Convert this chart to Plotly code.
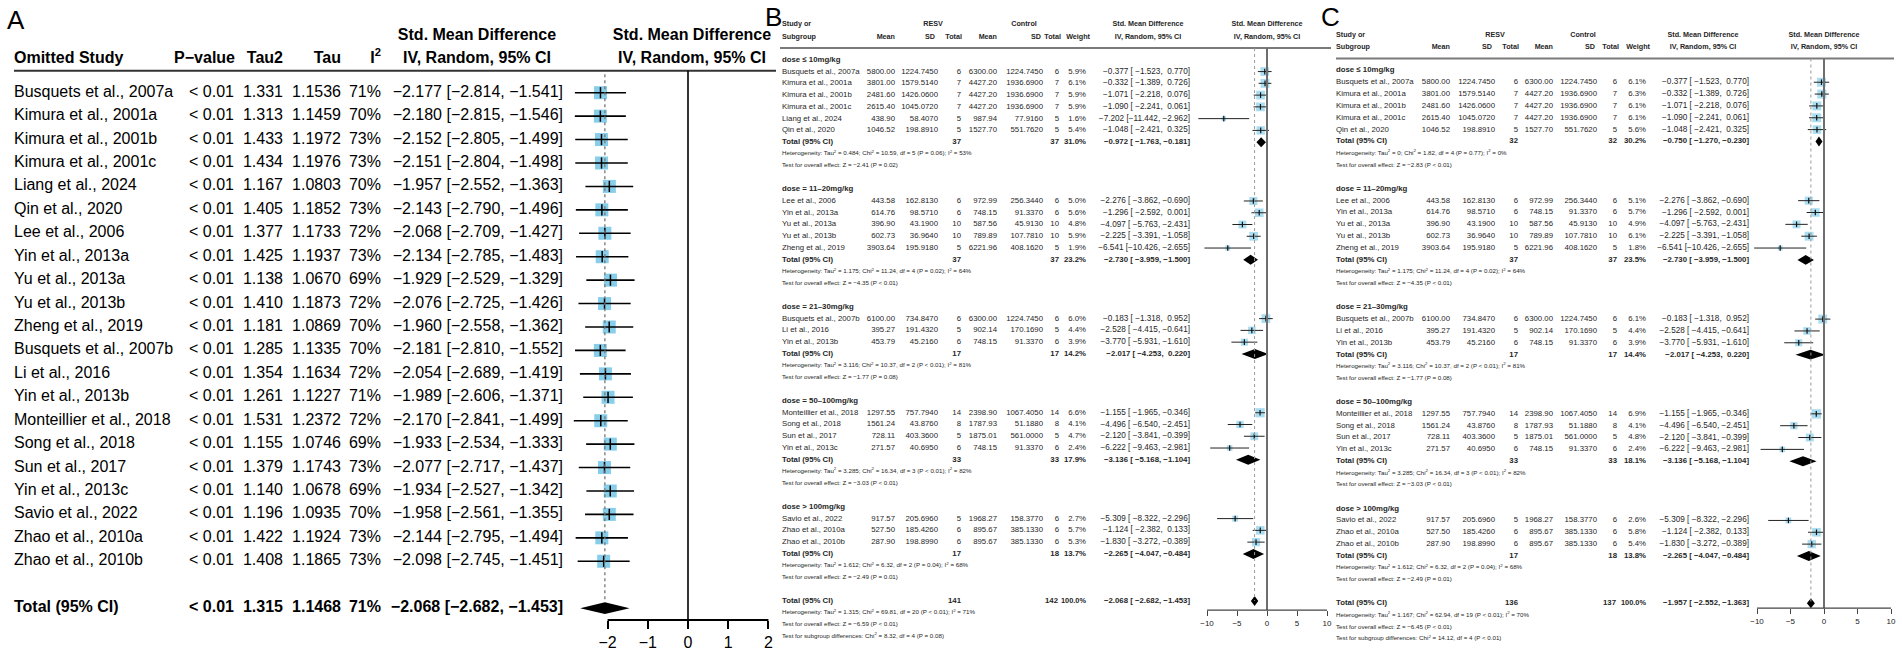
import plotly.graph_objects as go

W, H = 1902, 651
FONT = "Liberation Sans, Arial, sans-serif"
MINUS = "\u2212"

# ---------------- Panel A : leave-one-out ----------------
a_study = ["Busquets et al., 2007a", "Kimura et al., 2001a", "Kimura et al., 2001b", "Kimura et al., 2001c",
           "Liang et al., 2024", "Qin et al., 2020", "Lee et al., 2006", "Yin et al., 2013a", "Yu et al., 2013a",
           "Yu et al., 2013b", "Zheng et al., 2019", "Busquets et al., 2007b", "Li et al., 2016", "Yin et al., 2013b",
           "Monteillier et al., 2018", "Song et al., 2018", "Sun et al., 2017", "Yin et al., 2013c",
           "Savio et al., 2022", "Zhao et al., 2010a", "Zhao et al., 2010b"]
a_pvalue = ["< 0.01"] * 21
a_tau2 = [1.331, 1.313, 1.433, 1.434, 1.167, 1.405, 1.377, 1.425, 1.138, 1.410, 1.181, 1.285, 1.354, 1.261,
          1.531, 1.155, 1.379, 1.140, 1.196, 1.422, 1.408]
a_tau = [1.1536, 1.1459, 1.1972, 1.1976, 1.0803, 1.1852, 1.1733, 1.1937, 1.0670, 1.1873, 1.0869, 1.1335,
         1.1634, 1.1227, 1.2372, 1.0746, 1.1743, 1.0678, 1.0935, 1.1924, 1.1865]
a_i2 = [71, 70, 73, 73, 70, 73, 72, 73, 69, 72, 70, 70, 72, 71, 72, 69, 73, 69, 70, 73, 73]
a_smd = [-2.177, -2.180, -2.152, -2.151, -1.957, -2.143, -2.068, -2.134, -1.929, -2.076, -1.960, -2.181,
         -2.054, -1.989, -2.170, -1.933, -2.077, -1.934, -1.958, -2.144, -2.098]
a_lo = [-2.814, -2.815, -2.805, -2.804, -2.552, -2.790, -2.709, -2.785, -2.529, -2.725, -2.558, -2.810,
        -2.689, -2.606, -2.841, -2.534, -2.717, -2.527, -2.561, -2.795, -2.745]
a_hi = [-1.541, -1.546, -1.499, -1.498, -1.363, -1.496, -1.427, -1.483, -1.329, -1.426, -1.362, -1.552,
        -1.419, -1.371, -1.499, -1.333, -1.437, -1.342, -1.355, -1.494, -1.451]
a_tot_p = "< 0.01"
a_tot_tau2 = 1.315
a_tot_tau = 1.1468
a_tot_i2 = 71
a_tot_smd = -2.068
a_tot_lo = -2.682
a_tot_hi = -1.453
a_ticks = [-2, -1, 0, 1, 2]

# ---------------- Panel B : subgroups, all studies ----------------
b_groups = ["dose \u2264 10mg/kg", "dose = 11\u201320mg/kg", "dose = 21\u201330mg/kg",
            "dose = 50\u2013100mg/kg", "dose > 100mg/kg"]
b_group_of = [0, 0, 0, 0, 0, 0, 1, 1, 1, 1, 1, 2, 2, 2, 3, 3, 3, 3, 4, 4, 4]
b_study = ["Busquets et al., 2007a", "Kimura et al., 2001a", "Kimura et al., 2001b", "Kimura et al., 2001c",
           "Liang et al., 2024", "Qin et al., 2020", "Lee et al., 2006", "Yin et al., 2013a", "Yu et al., 2013a",
           "Yu et al., 2013b", "Zheng et al., 2019", "Busquets et al., 2007b", "Li et al., 2016",
           "Yin et al., 2013b", "Monteillier et al., 2018", "Song et al., 2018", "Sun et al., 2017",
           "Yin et al., 2013c", "Savio et al., 2022", "Zhao et al., 2010a", "Zhao et al., 2010b"]
b_m1 = [5800.00, 3801.00, 2481.60, 2615.40, 438.90, 1046.52, 443.58, 614.76, 396.90, 602.73, 3903.64,
        6100.00, 395.27, 453.79, 1297.55, 1561.24, 728.11, 271.57, 917.57, 527.50, 287.90]
b_sd1 = [1224.7450, 1579.5140, 1426.0600, 1045.0720, 58.4070, 198.8910, 162.8130, 98.5710, 43.1900,
         36.9640, 195.9180, 734.8470, 191.4320, 45.2160, 757.7940, 43.8760, 403.3600, 40.6950, 205.6960,
         185.4260, 198.8990]
b_n1 = [6, 7, 7, 7, 5, 5, 6, 6, 10, 10, 5, 6, 5, 6, 14, 8, 5, 6, 5, 6, 6]
b_m2 = [6300.00, 4427.20, 4427.20, 4427.20, 987.94, 1527.70, 972.99, 748.15, 587.56, 789.89, 6221.96,
        6300.00, 902.14, 748.15, 2398.90, 1787.93, 1875.01, 748.15, 1968.27, 895.67, 895.67]
b_sd2 = [1224.7450, 1936.6900, 1936.6900, 1936.6900, 77.9160, 551.7620, 256.3440, 91.3370, 45.9130,
         107.7810, 408.1620, 1224.7450, 170.1690, 91.3370, 1067.4050, 51.1880, 561.0000, 91.3370,
         158.3770, 385.1330, 385.1330]
b_n2 = [6, 7, 7, 7, 5, 5, 6, 6, 10, 10, 5, 6, 5, 6, 14, 8, 5, 6, 6, 6, 6]
b_w = [5.9, 6.1, 5.9, 5.9, 1.6, 5.4, 5.0, 5.6, 4.8, 5.9, 1.9, 6.0, 4.4, 3.9, 6.6, 4.1, 4.7, 2.4, 2.7, 5.7, 5.3]
b_smd = [-0.377, -0.332, -1.071, -1.090, -7.202, -1.048, -2.276, -1.296, -4.097, -2.225, -6.541, -0.183,
         -2.528, -3.770, -1.155, -4.496, -2.120, -6.222, -5.309, -1.124, -1.830]
b_lo = [-1.523, -1.389, -2.218, -2.241, -11.442, -2.421, -3.862, -2.592, -5.763, -3.391, -10.426, -1.318,
        -4.415, -5.931, -1.965, -6.540, -3.841, -9.463, -8.322, -2.382, -3.272]
b_hi = [0.770, 0.726, 0.076, 0.061, -2.962, 0.325, -0.690, 0.001, -2.431, -1.058, -2.655, 0.952, -0.641,
        -1.610, -0.346, -2.451, -0.399, -2.981, -2.296, 0.133, -0.389]
b_g_n1 = [37, 37, 17, 33, 17]
b_g_n2 = [37, 37, 17, 33, 18]
b_g_w = [31.0, 23.2, 14.2, 17.9, 13.7]
b_g_smd = [-0.972, -2.730, -2.017, -3.136, -2.265]
b_g_lo = [-1.763, -3.959, -4.253, -5.168, -4.047]
b_g_hi = [-0.181, -1.500, 0.220, -1.104, -0.484]
b_g_tau2 = ["0.484", "1.175", "3.116", "3.285", "1.612"]
b_g_chi2 = [10.59, 11.24, 10.37, 16.34, 6.32]
b_g_df = [5, 4, 2, 3, 2]
b_g_p = ["= 0.06", "= 0.02", "< 0.01", "< 0.01", "= 0.04"]
b_g_i2 = [53, 64, 81, 82, 68]
b_g_z = [-2.41, -4.35, -1.77, -3.03, -2.49]
b_g_zp = ["= 0.02", "< 0.01", "= 0.08", "< 0.01", "= 0.01"]
b_all = dict(n1=141, n2=142, w=100.0, smd=-2.068, lo=-2.682, hi=-1.453, tau2="1.315", chi2=69.81, df=20,
             p="< 0.01", i2=71, z=-6.59, zp="< 0.01", sg_chi2=8.32, sg_df=4, sg_p="= 0.08")

# ---------------- Panel C : subgroups, Liang et al. removed ----------------
c_groups = list(b_groups)
c_group_of = [0, 0, 0, 0, 0, 1, 1, 1, 1, 1, 2, 2, 2, 3, 3, 3, 3, 4, 4, 4]
c_study = ["Busquets et al., 2007a", "Kimura et al., 2001a", "Kimura et al., 2001b", "Kimura et al., 2001c",
           "Qin et al., 2020", "Lee et al., 2006", "Yin et al., 2013a", "Yu et al., 2013a",
           "Yu et al., 2013b", "Zheng et al., 2019", "Busquets et al., 2007b", "Li et al., 2016",
           "Yin et al., 2013b", "Monteillier et al., 2018", "Song et al., 2018", "Sun et al., 2017",
           "Yin et al., 2013c", "Savio et al., 2022", "Zhao et al., 2010a", "Zhao et al., 2010b"]
c_m1 = [5800.00, 3801.00, 2481.60, 2615.40, 1046.52, 443.58, 614.76, 396.90, 602.73, 3903.64,
        6100.00, 395.27, 453.79, 1297.55, 1561.24, 728.11, 271.57, 917.57, 527.50, 287.90]
c_sd1 = [1224.7450, 1579.5140, 1426.0600, 1045.0720, 198.8910, 162.8130, 98.5710, 43.1900,
         36.9640, 195.9180, 734.8470, 191.4320, 45.2160, 757.7940, 43.8760, 403.3600, 40.6950, 205.6960,
         185.4260, 198.8990]
c_n1 = [6, 7, 7, 7, 5, 6, 6, 10, 10, 5, 6, 5, 6, 14, 8, 5, 6, 5, 6, 6]
c_m2 = [6300.00, 4427.20, 4427.20, 4427.20, 1527.70, 972.99, 748.15, 587.56, 789.89, 6221.96,
        6300.00, 902.14, 748.15, 2398.90, 1787.93, 1875.01, 748.15, 1968.27, 895.67, 895.67]
c_sd2 = [1224.7450, 1936.6900, 1936.6900, 1936.6900, 551.7620, 256.3440, 91.3370, 45.9130,
         107.7810, 408.1620, 1224.7450, 170.1690, 91.3370, 1067.4050, 51.1880, 561.0000, 91.3370,
         158.3770, 385.1330, 385.1330]
c_n2 = [6, 7, 7, 7, 5, 6, 6, 10, 10, 5, 6, 5, 6, 14, 8, 5, 6, 6, 6, 6]
c_w = [6.1, 6.3, 6.1, 6.1, 5.6, 5.1, 5.7, 4.9, 6.1, 1.8, 6.1, 4.4, 3.9, 6.9, 4.1, 4.8, 2.4, 2.6, 5.8, 5.4]
c_smd = [-0.377, -0.332, -1.071, -1.090, -1.048, -2.276, -1.296, -4.097, -2.225, -6.541, -0.183,
         -2.528, -3.770, -1.155, -4.496, -2.120, -6.222, -5.309, -1.124, -1.830]
c_lo = [-1.523, -1.389, -2.218, -2.241, -2.421, -3.862, -2.592, -5.763, -3.391, -10.426, -1.318,
        -4.415, -5.931, -1.965, -6.540, -3.841, -9.463, -8.322, -2.382, -3.272]
c_hi = [0.770, 0.726, 0.076, 0.061, 0.325, -0.690, 0.001, -2.431, -1.058, -2.655, 0.952, -0.641,
        -1.610, -0.346, -2.451, -0.399, -2.981, -2.296, 0.133, -0.389]
c_g_n1 = [32, 37, 17, 33, 17]
c_g_n2 = [32, 37, 17, 33, 18]
c_g_w = [30.2, 23.5, 14.4, 18.1, 13.8]
c_g_smd = [-0.750, -2.730, -2.017, -3.136, -2.265]
c_g_lo = [-1.270, -3.959, -4.253, -5.168, -4.047]
c_g_hi = [-0.230, -1.500, 0.220, -1.104, -0.484]
c_g_tau2 = ["0", "1.175", "3.116", "3.285", "1.612"]
c_g_chi2 = [1.82, 11.24, 10.37, 16.34, 6.32]
c_g_df = [4, 4, 2, 3, 2]
c_g_p = ["= 0.77", "= 0.02", "< 0.01", "< 0.01", "= 0.04"]
c_g_i2 = [0, 64, 81, 82, 68]
c_g_z = [-2.83, -4.35, -1.77, -3.03, -2.49]
c_g_zp = ["< 0.01", "< 0.01", "= 0.08", "< 0.01", "= 0.01"]
c_all = dict(n1=136, n2=137, w=100.0, smd=-1.957, lo=-2.552, hi=-1.363, tau2="1.167", chi2=62.94, df=19,
             p="< 0.01", i2=70, z=-6.45, zp="< 0.01", sg_chi2=14.12, sg_df=4, sg_p="< 0.01")
bc_ticks = [-10, -5, 0, 5, 10]

# =====================================================================
fig = go.Figure()
shapes = []


def m(s):
    return s.replace("-", MINUS)


def txt(xpx, rows, texts, yax, pos, size, bold=False, color="black"):
    t = [("<b>%s</b>" % s if (bold and s) else s) for s in texts]
    fig.add_trace(go.Scatter(x=[xpx] * len(rows), y=list(rows), text=t, mode="text", textposition=pos,
                             textfont=dict(family=FONT, size=size, color=color), xaxis="x", yaxis=yax,
                             hoverinfo="skip", showlegend=False, cliponaxis=False))


def row_range(y0, s):
    return [(H - y0) / s, -y0 / s]


def px_axis(p0, p1, zero_px, ppu):
    return [(p0 - zero_px) / ppu, (p1 - zero_px) / ppu]


# ---------------- Panel A drawing ----------------
A_Y0, A_S = 93.0, 23.5
a_rows = list(range(len(a_study)))
a_tot_row = len(a_study) + 1
A_FS = 16
txt(14, a_rows, a_study, "y", "middle right", A_FS)
txt(234, a_rows, a_pvalue, "y", "middle left", A_FS)
txt(283, a_rows, ["%.3f" % v for v in a_tau2], "y", "middle left", A_FS)
txt(341, a_rows, ["%.4f" % v for v in a_tau], "y", "middle left", A_FS)
txt(381, a_rows, ["%d%%" % v for v in a_i2], "y", "middle left", A_FS)
txt(563, a_rows, [m("%.3f [%.3f, %.3f]" % (e, l, h)) for e, l, h in zip(a_smd, a_lo, a_hi)], "y",
    "middle left", A_FS)
# total row
txt(14, [a_tot_row], ["Total (95% CI)"], "y", "middle right", A_FS, bold=True)
txt(234, [a_tot_row], [a_tot_p], "y", "middle left", A_FS, bold=True)
txt(283, [a_tot_row], ["%.3f" % a_tot_tau2], "y", "middle left", A_FS, bold=True)
txt(341, [a_tot_row], ["%.4f" % a_tot_tau], "y", "middle left", A_FS, bold=True)
txt(381, [a_tot_row], ["%d%%" % a_tot_i2], "y", "middle left", A_FS, bold=True)
txt(563, [a_tot_row], [m("%.3f [%.3f, %.3f]" % (a_tot_smd, a_tot_lo, a_tot_hi))], "y", "middle left",
    A_FS, bold=True)
# header
a_h1 = (36 - A_Y0) / A_S
a_h2 = (59 - A_Y0) / A_S
a_rule = (71 - A_Y0) / A_S
txt(14, [a_h2], ["Omitted Study"], "y", "middle right", A_FS, bold=True)
txt(235, [a_h2], ["P\u2212value"], "y", "middle left", A_FS, bold=True)
txt(283, [a_h2], ["Tau2"], "y", "middle left", A_FS, bold=True)
txt(341, [a_h2], ["Tau"], "y", "middle left", A_FS, bold=True)
txt(381, [a_h2], ["I<sup>2</sup>"], "y", "middle left", A_FS, bold=True)
txt(477, [a_h1, a_h2], ["Std. Mean Difference", "IV, Random, 95% CI"], "y", "middle center", A_FS, bold=True)
txt(692, [a_h1, a_h2], ["Std. Mean Difference", "IV, Random, 95% CI"], "y", "middle center", A_FS, bold=True)
shapes.append(dict(type="line", xref="x", yref="y", x0=14, x1=776, y0=a_rule, y1=a_rule,
                   line=dict(color="#333333", width=2)))

# forest A
A_ZERO, A_PPU, A_AXIS_Y = 688.0, 40.2, 622.0
a_axis_row = (A_AXIS_Y - A_Y0) / A_S
shapes.append(dict(type="line", xref="x2", yref="y", x0=0, x1=0, y0=a_rule, y1=a_axis_row,
                   line=dict(color="black", width=1.6)))
shapes.append(dict(type="line", xref="x2", yref="y", x0=a_tot_smd, x1=a_tot_smd, y0=a_rule + 0.15,
                   y1=a_tot_row - 0.3, line=dict(color="#777777", width=1.3, dash="dot")))
shapes.append(dict(type="line", xref="x2", yref="paper", x0=min(a_ticks), x1=max(a_ticks),
                   y0=1 - A_AXIS_Y / H, y1=1 - A_AXIS_Y / H, line=dict(color="black", width=2)))
fig.add_trace(go.Scatter(x=a_smd, y=a_rows, mode="markers", xaxis="x2", yaxis="y",
                         marker=dict(symbol="square", size=13, color="#87CEEB", line=dict(width=0)),
                         hoverinfo="skip", showlegend=False))
cx, cy = [], []
for r, l, h in zip(a_rows, a_lo, a_hi):
    cx += [l, h, None]
    cy += [r, r, None]
fig.add_trace(go.Scatter(x=cx, y=cy, mode="lines", xaxis="x2", yaxis="y", line=dict(color="black", width=1.6),
                         hoverinfo="skip", showlegend=False))
fig.add_trace(go.Scatter(x=a_smd, y=a_rows, mode="markers", xaxis="x2", yaxis="y",
                         marker=dict(symbol="line-ns", size=8, line=dict(color="black", width=1.5)),
                         hoverinfo="skip", showlegend=False))
dh = 6.0 / A_S
fig.add_trace(go.Scatter(x=[a_tot_lo, a_tot_smd, a_tot_hi, a_tot_smd, a_tot_lo],
                         y=[a_tot_row, a_tot_row - dh, a_tot_row, a_tot_row + dh, a_tot_row],
                         mode="lines", fill="toself", fillcolor="black", line=dict(width=0, color="black"),
                         xaxis="x2", yaxis="y", hoverinfo="skip", showlegend=False))


# ---------------- Panels B and C drawing ----------------
def panel(P, d, yax, xax, shapes):
    groups, gof = d["groups"], d["group_of"]
    n = len(d["study"])
    srow = [0] * n
    hdr_rows, tot_rows, het_rows, test_rows = [], [], [], []
    r = 0
    for g in range(len(groups)):
        idx = [i for i in range(n) if gof[i] == g]
        hdr_rows.append(r)
        for k, i in enumerate(idx):
            srow[i] = r + 1 + k
        tot_rows.append(r + len(idx) + 1)
        het_rows.append(r + len(idx) + 2)
        test_rows.append(r + len(idx) + 3)
        r = r + len(idx) + 5
    all_tot, all_het, all_test, all_sg = r, r + 1, r + 2, r + 3

    FS, HS, TS = 7.8, 6.2, 7.2
    col = "#262626"
    L = P["left"]
    # study rows
    txt(L, srow, d["study"], yax, "middle right", FS, color=col)
    txt(P["mean"], srow, ["%.2f" % v for v in d["m1"]], yax, "middle left", FS, color=col)
    txt(P["sd"], srow, ["%.4f" % v for v in d["sd1"]], yax, "middle left", FS, color=col)
    txt(P["tot"], srow, ["%d" % v for v in d["n1"]], yax, "middle left", FS, color=col)
    txt(P["cmean"], srow, ["%.2f" % v for v in d["m2"]], yax, "middle left", FS, color=col)
    txt(P["csd"], srow, ["%.4f" % v for v in d["sd2"]], yax, "middle left", FS, color=col)
    txt(P["ctot"], srow, ["%d" % v for v in d["n2"]], yax, "middle left", FS, color=col)
    txt(P["w"], srow, ["%.1f%%" % v for v in d["w"]], yax, "middle left", FS, color=col)

    def ci(e, l, h):
        return m("%.3f [%s, %s]" % (e, ("%.3f" % l).rjust(7), ("%.3f" % h).rjust(6))).replace("  ", " \u00a0")

    txt(P["smd"], srow, [ci(e, l, h) for e, l, h in zip(d["smd"], d["lo"], d["hi"])], yax, "middle left",
        FS + 0.4, color=col)
    # group rows
    txt(L, hdr_rows, groups, yax, "middle right", FS, bold=True, color=col)
    txt(L, tot_rows, ["Total (95% CI)"] * len(groups), yax, "middle right", FS, bold=True, color=col)
    txt(P["tot"], tot_rows, ["%d" % v for v in d["g_n1"]], yax, "middle left", FS, bold=True, color=col)
    txt(P["ctot"], tot_rows, ["%d" % v for v in d["g_n2"]], yax, "middle left", FS, bold=True, color=col)
    txt(P["w"], tot_rows, ["%.1f%%" % v for v in d["g_w"]], yax, "middle left", FS, bold=True, color=col)
    txt(P["smd"], tot_rows, [ci(e, l, h) for e, l, h in zip(d["g_smd"], d["g_lo"], d["g_hi"])], yax,
        "middle left", FS, bold=True, color=col)
    het = ["Heterogeneity: Tau<sup>2</sup> = %s; Chi<sup>2</sup> = %.2f, df = %d (P %s); I<sup>2</sup> = %d%%"
           % (t, c, f, p, i) for t, c, f, p, i in zip(d["g_tau2"], d["g_chi2"], d["g_df"], d["g_p"], d["g_i2"])]
    txt(L, het_rows, het, yax, "middle right", HS, color=col)
    tst = [m("Test for overall effect: Z = %.2f (P %s)" % (z, p)) for z, p in zip(d["g_z"], d["g_zp"])]
    txt(L, test_rows, tst, yax, "middle right", HS, color=col)
    a = d["all"]
    txt(L, [all_tot], ["Total (95% CI)"], yax, "middle right", FS, bold=True, color=col)
    txt(P["tot"], [all_tot], ["%d" % a["n1"]], yax, "middle left", FS, bold=True, color=col)
    txt(P["ctot"] - 1, [all_tot], ["%d" % a["n2"]], yax, "middle left", FS, bold=True, color=col)
    txt(P["w"], [all_tot], ["%.1f%%" % a["w"]], yax, "middle left", FS - 0.4, bold=True, color=col)
    txt(P["smd"], [all_tot], [ci(a["smd"], a["lo"], a["hi"])], yax, "middle left", FS, bold=True, color=col)
    txt(L, [all_het, all_test, all_sg],
        ["Heterogeneity: Tau<sup>2</sup> = %s; Chi<sup>2</sup> = %.2f, df = %d (P %s); I<sup>2</sup> = %d%%"
         % (a["tau2"], a["chi2"], a["df"], a["p"], a["i2"]),
         m("Test for overall effect: Z = %.2f (P %s)" % (a["z"], a["zp"])),
         "Test for subgroup differences: Chi<sup>2</sup> = %.2f, df = %d (P %s)" % (a["sg_chi2"], a["sg_df"],
                                                                                   a["sg_p"])],
        yax, "middle right", HS, color=col)
    # header
    h1, h2, rule = -3.0, -1.95, -1.0
    txt(L, [h1, h2], ["Study or", "Subgroup"], yax, "middle right", TS, bold=True, color=col)
    txt(P["mean"], [h2], ["Mean"], yax, "middle left", TS, bold=True, color=col)
    txt(P["resv_c"], [h1], ["RESV"], yax, "middle center", TS, bold=True, color=col)
    txt(P["sd"] - 3, [h2], ["SD"], yax, "middle left", TS, bold=True, color=col)
    txt(P["tot"] + 1, [h2], ["Total"], yax, "middle left", TS, bold=True, color=col)
    txt(P["cmean"], [h2], ["Mean"], yax, "middle left", TS, bold=True, color=col)
    txt(P["ctrl_c"], [h1], ["Control"], yax, "middle center", TS, bold=True, color=col)
    txt(P["csd"] - 2, [h2], ["SD"], yax, "middle left", TS, bold=True, color=col)
    txt(P["ctot"] + 2, [h2], ["Total"], yax, "middle left", TS, bold=True, color=col)
    txt(P["w"] + 4, [h2], ["Weight"], yax, "middle left", TS, bold=True, color=col)
    txt(P["smd_c"], [h1, h2], ["Std. Mean Difference", "IV, Random, 95% CI"], yax, "middle center", TS,
        bold=True, color=col)
    txt(P["zero"], [h1, h2], ["Std. Mean Difference", "IV, Random, 95% CI"], yax, "middle center", TS,
        bold=True, color=col)
    shapes.append(dict(type="line", xref="x", yref=yax, x0=P["rule0"], x1=P["rule1"], y0=rule, y1=rule,
                       line=dict(color="#7a7a7a", width=2)))
    # forest
    axis_row = (P["axis_y"] - P["y0"]) / P["s"]
    shapes.append(dict(type="line", xref=xax, yref=yax, x0=0, x1=0, y0=rule, y1=axis_row,
                       line=dict(color="#6e6e6e", width=2)))
    shapes.append(dict(type="line", xref=xax, yref=yax, x0=a["smd"], x1=a["smd"], y0=rule, y1=all_tot,
                       line=dict(color="#9a9a9a", width=1, dash="dot")))
    shapes.append(dict(type="line", xref=xax, yref="paper", x0=min(bc_ticks), x1=max(bc_ticks),
                       y0=1 - P["axis_y"] / H, y1=1 - P["axis_y"] / H, line=dict(color="#444444", width=1.2)))
    fig.add_trace(go.Scatter(x=d["smd"], y=srow, mode="markers", xaxis=xax, yaxis=yax,
                             marker=dict(symbol="square", size=[3.6 * (w ** 0.5) for w in d["w"]],
                                         color="#87CEEB", line=dict(width=0)),
                             hoverinfo="skip", showlegend=False))
    lx, ly = [], []
    for rr, l, h in zip(srow, d["lo"], d["hi"]):
        lx += [l, h, None]
        ly += [rr, rr, None]
    fig.add_trace(go.Scatter(x=lx, y=ly, mode="lines", xaxis=xax, yaxis=yax, line=dict(color="#222222", width=1),
                             hoverinfo="skip", showlegend=False))
    fig.add_trace(go.Scatter(x=d["smd"], y=srow, mode="markers", xaxis=xax, yaxis=yax,
                             marker=dict(symbol="line-ns", size=4, line=dict(color="#111111", width=1.2)),
                             hoverinfo="skip", showlegend=False))
    dx, dy = [], []
    hh = 5.0 / P["s"]
    for rr, e, l, h in list(zip(tot_rows, d["g_smd"], d["g_lo"], d["g_hi"])) + [(all_tot, a["smd"], a["lo"], a["hi"])]:
        dx += [l, e, h, e, l, None]
        dy += [rr, rr - hh, rr, rr + hh, rr, None]
    fig.add_trace(go.Scatter(x=dx, y=dy, mode="lines", fill="toself", fillcolor="black",
                             line=dict(width=0, color="black"), xaxis=xax, yaxis=yax,
                             hoverinfo="skip", showlegend=False))


PB = dict(y0=60.0, s=11.8, left=782, mean=895, sd=938, tot=961, cmean=997, csd=1043, ctot=1059, w=1086,
          smd=1190, resv_c=933, ctrl_c=1024, smd_c=1148, zero=1267, ppu=6.0, axis_y=612, rule0=780, rule1=1331)
PC = dict(y0=70.6, s=11.88, left=1336, mean=1450, sd=1495, tot=1518, cmean=1553, csd=1597, ctot=1617,
          w=1646, smd=1749, resv_c=1495, ctrl_c=1583, smd_c=1703, zero=1824, ppu=6.7, axis_y=610, rule0=1336,
          rule1=1894)

dB = dict(groups=b_groups, group_of=b_group_of, study=b_study, m1=b_m1, sd1=b_sd1, n1=b_n1, m2=b_m2,
          sd2=b_sd2, n2=b_n2, w=b_w, smd=b_smd, lo=b_lo, hi=b_hi, g_n1=b_g_n1, g_n2=b_g_n2, g_w=b_g_w,
          g_smd=b_g_smd, g_lo=b_g_lo, g_hi=b_g_hi, g_tau2=b_g_tau2, g_chi2=b_g_chi2, g_df=b_g_df, g_p=b_g_p,
          g_i2=b_g_i2, g_z=b_g_z, g_zp=b_g_zp, all=b_all)
dC = dict(groups=c_groups, group_of=c_group_of, study=c_study, m1=c_m1, sd1=c_sd1, n1=c_n1, m2=c_m2,
          sd2=c_sd2, n2=c_n2, w=c_w, smd=c_smd, lo=c_lo, hi=c_hi, g_n1=c_g_n1, g_n2=c_g_n2, g_w=c_g_w,
          g_smd=c_g_smd, g_lo=c_g_lo, g_hi=c_g_hi, g_tau2=c_g_tau2, g_chi2=c_g_chi2, g_df=c_g_df, g_p=c_g_p,
          g_i2=c_g_i2, g_z=c_g_z, g_zp=c_g_zp, all=c_all)

panel(PB, dB, "y2", "x3", shapes)
panel(PC, dC, "y3", "x4", shapes)

hidden = dict(visible=False, showgrid=False, zeroline=False, fixedrange=True)
fx = dict(showgrid=False, zeroline=False, showline=False, ticks="outside", anchor="free", fixedrange=True)

fig.update_layout(
    width=W, height=H, margin=dict(l=0, r=0, t=0, b=0), autosize=False,
    paper_bgcolor="white", plot_bgcolor="rgba(0,0,0,0)", showlegend=False,
    font=dict(family=FONT, color="black"),
    xaxis=dict(domain=[0, 1], range=[0, W], anchor="y", **hidden),
    yaxis=dict(domain=[0, 1], range=row_range(A_Y0, A_S), anchor="x", **hidden),
    yaxis2=dict(domain=[0, 1], range=row_range(PB["y0"], PB["s"]), anchor="x", **hidden),
    yaxis3=dict(domain=[0, 1], range=row_range(PC["y0"], PC["s"]), anchor="x", **hidden),
    xaxis2=dict(domain=[540 / W, 800 / W], range=px_axis(540, 800, A_ZERO, A_PPU), position=1 - A_AXIS_Y / H,
                tickvals=a_ticks, ticklen=8, tickwidth=2, tickcolor="black",
                tickfont=dict(family=FONT, size=16, color="black"), **fx),
    xaxis3=dict(domain=[1190 / W, 1340 / W], range=px_axis(1190, 1340, PB["zero"], PB["ppu"]),
                position=1 - PB["axis_y"] / H, tickvals=bc_ticks, ticklen=5, tickwidth=1.2, tickcolor="#444444",
                tickfont=dict(family=FONT, size=8, color="#222222"), **fx),
    xaxis4=dict(domain=[1740 / W, 1900 / W], range=px_axis(1740, 1900, PC["zero"], PC["ppu"]),
                position=1 - PC["axis_y"] / H, tickvals=bc_ticks, ticklen=5, tickwidth=1.2, tickcolor="#444444",
                tickfont=dict(family=FONT, size=8, color="#222222"), **fx),
    shapes=shapes,
    annotations=[
        dict(text="A", x=16 / W, y=1 - 20 / H, xref="paper", yref="paper", showarrow=False,
             font=dict(family=FONT, size=26, color="black"), xanchor="center", yanchor="middle"),
        dict(text="B", x=773 / W, y=1 - 17 / H, xref="paper", yref="paper", showarrow=False,
             font=dict(family=FONT, size=26, color="black"), xanchor="center", yanchor="middle"),
        dict(text="C", x=1330 / W, y=1 - 17 / H, xref="paper", yref="paper", showarrow=False,
             font=dict(family=FONT, size=26, color="black"), xanchor="center", yanchor="middle"),
    ],
)

fig.write_html("out.html", config={"displayModeBar": False},
               post_script="document.body.style.margin='0px';document.body.style.overflow='hidden';")
